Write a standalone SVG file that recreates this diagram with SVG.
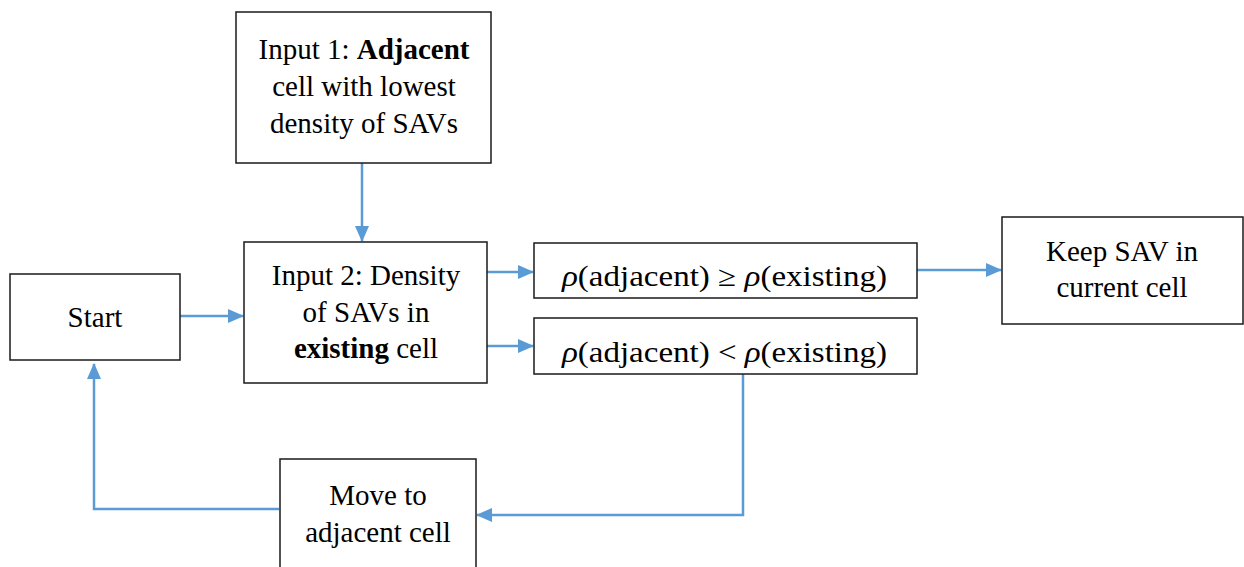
<svg xmlns="http://www.w3.org/2000/svg" width="1244" height="567" viewBox="0 0 1244 567">
  <style>
    .box { fill: #ffffff; stroke: #1a1a1a; stroke-width: 1.5; }
    .lbl { font-family: "Liberation Serif", serif; font-size: 29px; fill: #000; text-anchor: middle; }
    .math { font-family: "Liberation Serif", "DejaVu Serif", serif; font-size: 29px; fill: #000; }
    .b { font-weight: bold; }
    .wire { fill: none; stroke: #5B9BD5; stroke-width: 2.5; }
  </style>
  <defs>
    <marker id="arrow" markerUnits="userSpaceOnUse" markerWidth="16" markerHeight="14" refX="15" refY="7" orient="auto">
      <path d="M0,0 L16,7 L0,14 Z" fill="#5B9BD5"/>
    </marker>
  </defs>
  <rect width="1244" height="567" fill="#ffffff"/>

  <g id="connectors">
    <line class="wire" x1="362" y1="163" x2="362" y2="241" marker-end="url(#arrow)"/>
    <line class="wire" x1="180" y1="316" x2="243" y2="316" marker-end="url(#arrow)"/>
    <line class="wire" x1="487" y1="272" x2="533" y2="272" marker-end="url(#arrow)"/>
    <line class="wire" x1="487" y1="346" x2="533" y2="346" marker-end="url(#arrow)"/>
    <line class="wire" x1="917" y1="270" x2="1001" y2="270" marker-end="url(#arrow)"/>
    <polyline class="wire" points="743,374 743,515 477,515" marker-end="url(#arrow)"/>
    <polyline class="wire" points="279,509 94,509 94,364" marker-end="url(#arrow)"/>
  </g>

  <g id="input1">
    <rect class="box" x="236" y="12" width="255" height="151"/>
    <text class="lbl" x="364" y="59">Input 1: <tspan class="b">Adjacent</tspan></text>
    <text class="lbl" x="364" y="96">cell with lowest</text>
    <text class="lbl" x="364" y="133">density of SAVs</text>
  </g>

  <g id="start">
    <rect class="box" x="10" y="274" width="170" height="86"/>
    <text class="lbl" x="95" y="327">Start</text>
  </g>

  <g id="input2">
    <rect class="box" x="244" y="242" width="243" height="141"/>
    <text class="lbl" x="366" y="285">Input 2: Density</text>
    <text class="lbl" x="366" y="322">of SAVs in</text>
    <text class="lbl" x="366" y="358"><tspan class="b">existing</tspan> cell</text>
  </g>

  <g id="cond-ge">
    <rect class="box" x="534" y="243" width="383" height="55"/>
    <text class="math" x="562" y="286" textLength="325" lengthAdjust="spacingAndGlyphs"><tspan font-style="italic">ρ</tspan>(adjacent) ≥ <tspan font-style="italic">ρ</tspan>(existing)</text>
  </g>

  <g id="cond-lt">
    <rect class="box" x="534" y="318" width="383" height="56"/>
    <text class="math" x="562" y="362" textLength="325" lengthAdjust="spacingAndGlyphs"><tspan font-style="italic">ρ</tspan>(adjacent) &lt; <tspan font-style="italic">ρ</tspan>(existing)</text>
  </g>

  <g id="keep">
    <rect class="box" x="1002" y="217" width="241" height="107"/>
    <text class="lbl" x="1122" y="261">Keep SAV in</text>
    <text class="lbl" x="1122" y="297">current cell</text>
  </g>

  <g id="move">
    <rect class="box" x="280" y="459" width="196" height="130"/>
    <text class="lbl" x="378" y="505">Move to</text>
    <text class="lbl" x="378" y="542">adjacent cell</text>
  </g>
</svg>
